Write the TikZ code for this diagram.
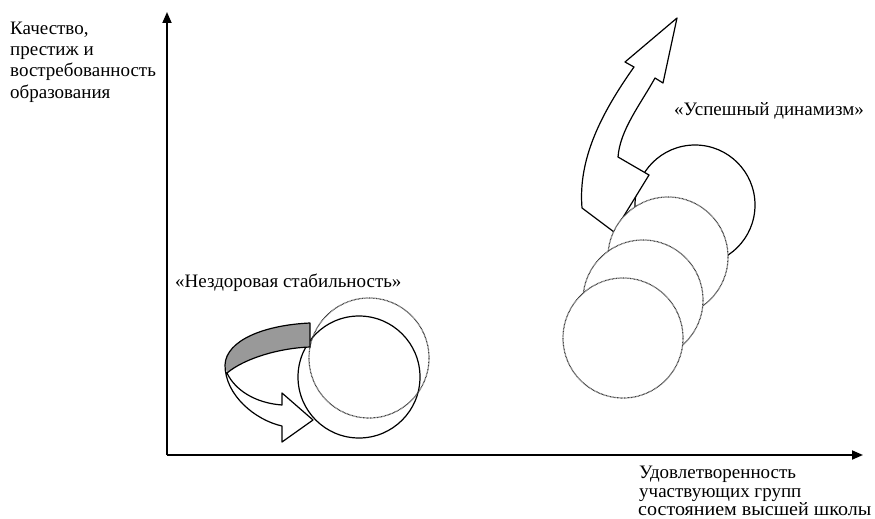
\documentclass[tikz,border=0pt]{standalone}
\usepackage{fontspec}
\usepackage{graphicx}
\setmainfont{Liberation Serif}
\usetikzlibrary{arrows.meta}
\begin{document}
\begin{tikzpicture}[x=1pt,y=-1pt,
  lbl/.style={anchor=base west,inner sep=0pt,font=\fontsize{19}{21}\selectfont},
  axis/.style={line width=1.8pt,-{Triangle[length=11pt,width=9pt]}},
  solidc/.style={line width=1.2pt,draw=black},
  dotc/.style={line width=1.2pt,draw=black!75,dash pattern=on 0.8pt off 0.6pt},
  ribbon/.style={line width=1.2pt,draw=black,line join=round}]
\useasboundingbox (0,0) rectangle (875,519);
\fill[white] (0,0) rectangle (875,519);
% axes
\coordinate (O) at (167,455);
\coordinate (ytop) at (167,12);
\coordinate (xend) at (863,455);
\draw[axis] (O) -- (ytop);
\draw[axis] (O) -- (xend);
% axis labels
\node[lbl] (y1) at (10,35) {Качество,};
\node[lbl] (y2) at (10,56) {престиж и};
\node[lbl] (y3) at (10,77) {востребованность};
\node[lbl] (y4) at (10,99) {образования};
\node[lbl] (x1) at (639,478) {Удовлетворенность};
\node[lbl] (x2) at (639,497) {участвующих групп};
\node[lbl] (x3) at (638,515.5) {\resizebox{233pt}{\height}{состоянием высшей школы}};
\node[lbl] (lstab) at (175,287) {«Нездоровая стабильность»};
\node[lbl] (ldyn) at (674,115) {«Успешный динамизм»};
% left group
\draw[solidc] (359,377) circle[radius=61];
\draw[dotc] (369,358) circle[radius=60];
\path[fill=white] (310,323) .. controls (265,325) and (226,340) .. (225,365)
  .. controls (225,395) and (255,420) .. (282,426) -- (282,442) -- (313,420)
  -- (282,393) -- (282,405) .. controls (255,403) and (235,390) .. (227,373)
  .. controls (245,358) and (280,348) .. (310,347) -- cycle;
\fill[gray!80] (310,323) .. controls (265,325) and (226,340) .. (225,365)
  -- (227,373) .. controls (245,358) and (280,348) .. (310,347) -- cycle;
\draw[ribbon] (310,323) .. controls (265,325) and (226,340) .. (225,365)
  .. controls (225,395) and (255,420) .. (282,426) -- (282,442) -- (313,420)
  -- (282,393) -- (282,405) .. controls (255,403) and (235,390) .. (227,373)
  .. controls (245,358) and (280,348) .. (310,347) -- cycle;
% right group
\draw[solidc,fill=white] (695,205) circle[radius=60];
\draw[ribbon,fill=white] (614,232) -- (582,208) .. controls (578,160) and (600,115) .. (634,67)
  -- (625,62) -- (677,18) -- (663,83) -- (655,78)
  .. controls (640,105) and (620,130) .. (618,157) -- (649,175) -- cycle;
\draw[dotc,fill=white] (668,257) circle[radius=60];
\draw[dotc,fill=white] (643,300) circle[radius=60];
\draw[dotc,fill=white] (623,338) circle[radius=60];
\end{tikzpicture}
\end{document}
